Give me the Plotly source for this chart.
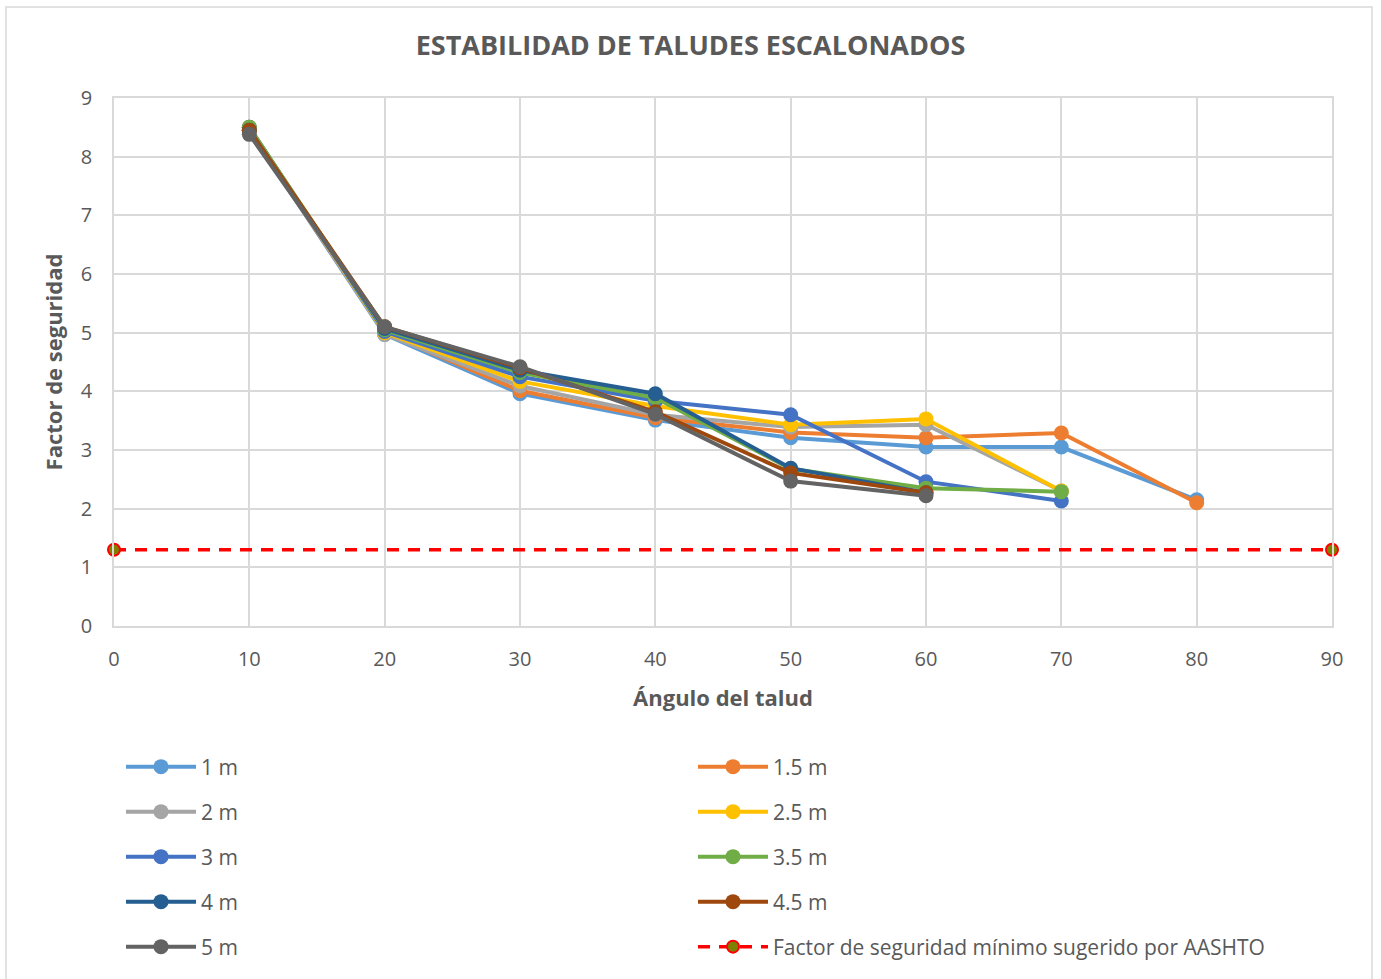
import plotly.graph_objects as go

# Ángulo del talud (grados)
angles = [10, 20, 30, 40, 50, 60, 70, 80]

# Factor de seguridad por altura de escalón
fs_1m = [8.45, 4.97, 3.96, 3.51, 3.21, 3.05, 3.05, 2.15]
fs_1_5m = [8.45, 5.00, 4.01, 3.55, 3.30, 3.21, 3.29, 2.10]
fs_2m = [8.50, 4.97, 4.09, 3.60, 3.39, 3.43, 2.30]
fs_2_5m = [8.50, 5.00, 4.17, 3.75, 3.43, 3.53, 2.30]
fs_3m = [8.50, 5.02, 4.25, 3.84, 3.60, 2.46, 2.13]
fs_3_5m = [8.50, 5.05, 4.32, 3.89, 2.68, 2.35, 2.29]
fs_4m = [8.45, 5.07, 4.36, 3.96, 2.69, 2.27]
fs_4_5m = [8.45, 5.10, 4.40, 3.65, 2.61, 2.27]
fs_5m = [8.38, 5.10, 4.42, 3.61, 2.47, 2.22]

# Mínimo sugerido por AASHTO
aashto_x = [0, 90]
aashto_y = [1.3, 1.3]

series = [
    ("1 m", fs_1m, "#5B9BD5"),
    ("1.5 m", fs_1_5m, "#ED7D31"),
    ("2 m", fs_2m, "#A5A5A5"),
    ("2.5 m", fs_2_5m, "#FFC000"),
    ("3 m", fs_3m, "#4472C4"),
    ("3.5 m", fs_3_5m, "#70AD47"),
    ("4 m", fs_4m, "#255E91"),
    ("4.5 m", fs_4_5m, "#9E480E"),
    ("5 m", fs_5m, "#636363"),
]

FONT = "Open Sans, Liberation Sans, sans-serif"
TXT = "#595959"
GRID = "#D9D9D9"

W, H = 1381, 979
L, R, T, B = 114, 1332, 98, 626
pw, ph = R - L, B - T

def px(x):
    return (x - L) / pw

def py(y):
    return (B - y) / ph

# One legend box per entry: two columns, five rows
col_x = [121, 693]
row_y = [767, 812, 857, 902, 947]

legend_ids = ["legend" if i == 0 else f"legend{i + 1}" for i in range(10)]
legend_layout = {}
for i, lid in enumerate(legend_ids):
    legend_layout[lid] = dict(
        x=px(col_x[i % 2]), y=py(row_y[i // 2]),
        xanchor="left", yanchor="middle",
        font=dict(family=FONT, size=21, color=TXT),
        bgcolor="rgba(0,0,0,0)", itemwidth=70, visible=True,
    )

fig = go.Figure()
for i, (name, vals, color) in enumerate(series):
    fig.add_trace(go.Scatter(
        x=angles[:len(vals)], y=vals, name=name, mode="lines+markers",
        line=dict(color=color, width=4),
        marker=dict(color=color, size=15),
        legend=legend_ids[i], showlegend=True,
    ))

fig.add_trace(go.Scatter(
    x=aashto_x, y=aashto_y, mode="lines+markers",
    name="Factor de seguridad mínimo sugerido por AASHTO",
    line=dict(color="#FF0000", width=3.5, dash="12px,9px"),
    marker=dict(color="#7F7F00", size=12, line=dict(color="#FF0000", width=2)),
    legend=legend_ids[9], showlegend=True, cliponaxis=False,
))

fig.update_layout(
    width=W, height=H,
    showlegend=True,
    margin=dict(l=L, r=W - R, t=T, b=H - B),
    paper_bgcolor="white", plot_bgcolor="white",
    font=dict(family=FONT, color=TXT),
    title=dict(
        text="<b>ESTABILIDAD DE TALUDES ESCALONADOS</b>",
        font=dict(family=FONT, size=27, color=TXT),
        xref="container", x=0.5, xanchor="center",
        yref="container", y=1 - 46 / H, yanchor="middle",
    ),
    xaxis=dict(
        range=[0, 90], dtick=10, tick0=0,
        showgrid=True, gridcolor=GRID, gridwidth=1.5,
        showline=True, linecolor=GRID, linewidth=1.5, mirror=True,
        zeroline=False, ticks="", ticklabelstandoff=14,
        tickfont=dict(family=FONT, size=20, color=TXT),
        title=dict(text="<b>Ángulo del talud</b>",
                   font=dict(family=FONT, size=22, color=TXT), standoff=20),
    ),
    yaxis=dict(
        range=[0, 9], dtick=1, tick0=0,
        showgrid=True, gridcolor=GRID, gridwidth=1.5,
        showline=True, linecolor=GRID, linewidth=1.5, mirror=True,
        zeroline=False, ticks="", ticklabelstandoff=16,
        tickfont=dict(family=FONT, size=20, color=TXT),
        title=dict(text="<b>Factor de seguridad</b>",
                   font=dict(family=FONT, size=22, color=TXT), standoff=12),
    ),
    shapes=[dict(
        type="rect", xref="paper", yref="paper",
        x0=px(6), x1=px(1372), y0=py(995), y1=py(7),
        line=dict(color=GRID, width=1.5), fillcolor="rgba(0,0,0,0)",
        layer="below",
    )],
    **legend_layout,
)

fig.write_html("out.html")
